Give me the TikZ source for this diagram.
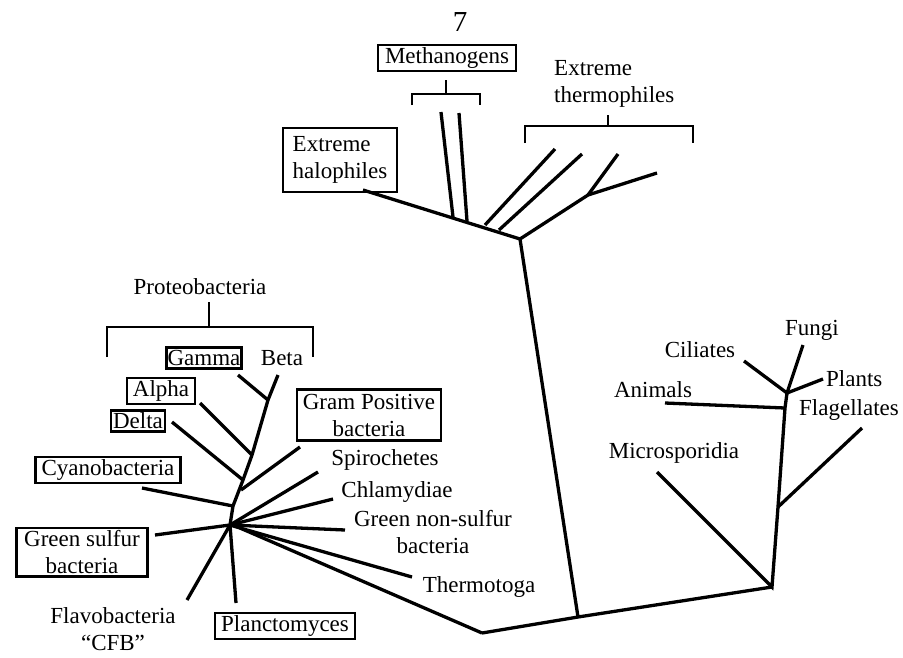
\documentclass[tikz,border=0pt]{standalone}
\usepackage{fontspec}
\setmainfont{Liberation Serif}
\begin{document}
\begin{tikzpicture}[x=1pt,y=-1pt,
  branch/.style={line width=3.3pt},
  brace/.style={line width=2.5pt},
  taxon/.style={inner sep=1pt, font=\fontsize{23}{27}\selectfont},
  boxed/.style={taxon, draw, line width=2.6pt, inner xsep=6pt, inner ysep=2.5pt}]
\useasboundingbox (0,0) rectangle (903,657);

\node[taxon, font=\fontsize{29}{30}\selectfont] (page) at (460,22) {7};

% Archaea
\node[boxed, inner xsep=7pt] (meth) at (447,58) {Methanogens};
\node[boxed, align=left, minimum width=114pt, minimum height=64pt] (halo) at (340,160) {Extreme\\halophiles};
\node[taxon, align=left, anchor=west] (therm) at (553,84) {Extreme\\thermophiles};

\coordinate (arch) at (520,239);
\coordinate (haloend) at (363,190);
\coordinate (methA) at (441,112);
\coordinate (methAb) at (453,217);
\coordinate (methB) at (459,113);
\coordinate (methBb) at (467,221);
\coordinate (thA) at (555,149);
\coordinate (thAb) at (485,225);
\coordinate (thB) at (582,154);
\coordinate (thBb) at (499,230);
\coordinate (thjn) at (588,195);
\coordinate (thC) at (618,154);
\coordinate (thD) at (657,173);

\draw[branch] (haloend) -- (arch);
\draw[branch] (methA) -- (methAb);
\draw[branch] (methB) -- (methBb);
\draw[branch] (thA) -- (thAb);
\draw[branch] (thB) -- (thBb);
\draw[branch] (arch) -- (thjn) -- (thD);
\draw[branch] (thjn) -- (thC);

% brackets
\coordinate (mbl) at (412,94);
\coordinate (mbr) at (480,94);
\draw[brace] (446,80) -- (446,94);
\draw[brace] (412,105) -- (mbl) -- (mbr) -- (480,105);
\coordinate (tbl) at (525,126);
\coordinate (tbr) at (693,126);
\draw[brace] (608,115) -- (608,126);
\draw[brace] (525,143) -- (tbl) -- (tbr) -- (693,143);

% main trunk and root
\coordinate (trunk) at (578,617);
\coordinate (broot) at (482,633);
\coordinate (euk) at (772,587);
\draw[branch] (arch) -- (trunk);
\draw[branch] (broot) -- (trunk) -- (euk);

% Eukarya
\node[taxon] (micro) at (674,453) {Microsporidia};
\node[taxon] (anim) at (653,390) {Animals};
\node[taxon] (cil) at (700,350) {Ciliates};
\node[taxon] (fungi) at (812,330) {Fungi};
\node[taxon, anchor=west] (plants) at (825,379) {Plants};
\node[taxon, anchor=west] (flag) at (798,410) {Flagellates};

\coordinate (microend) at (657,472);
\coordinate (flagjn) at (778,507);
\coordinate (flagend) at (862,428);
\coordinate (animjn) at (785,408);
\coordinate (animend) at (665,403);
\coordinate (eukjn) at (787,393);
\coordinate (cilend) at (744,361);
\coordinate (fungiend) at (803,345);
\coordinate (plantsend) at (823,379);

\draw[branch] (microend) -- (euk) -- (flagjn) -- (animjn) -- (eukjn);
\draw[branch] (flagjn) -- (flagend);
\draw[branch] (animend) -- (animjn);
\draw[branch] (cilend) -- (eukjn) -- (fungiend);
\draw[branch] (eukjn) -- (plantsend);

% Bacteria
\node[taxon] (proteo) at (200,287) {Proteobacteria};
\node[boxed, inner xsep=1pt] (gamma) at (204,358) {Gamma};
\node[taxon] (beta) at (282,358) {Beta};
\node[boxed] (alpha) at (161,391) {Alpha};
\node[boxed, inner xsep=2pt] (delta) at (138,421) {Delta};
\node[boxed] (cyano) at (108,470) {Cyanobacteria};
\node[boxed, align=center, inner ysep=4pt] (gram) at (369,415) {Gram Positive\\bacteria};
\node[taxon] (spiro) at (385,460) {Spirochetes};
\node[taxon] (chlam) at (397,492) {Chlamydiae};
\node[taxon, align=center] (gns) at (433,532) {Green non-sulfur\\bacteria};
\node[taxon] (thermo) at (479,587) {Thermotoga};
\node[boxed, align=center, inner xsep=8pt] (gsb) at (82,552) {Green sulfur\\bacteria};
\node[taxon, align=center] (flavo) at (113,629) {Flavobacteria\\``CFB''};
\node[boxed] (plancto) at (285,626) {Planctomyces};

\coordinate (pbl) at (107,327);
\coordinate (pbr) at (313,327);
\draw[brace] (209,302) -- (209,327);
\draw[brace] (107,357) -- (pbl) -- (pbr) -- (313,357);

\coordinate (bact) at (230,525);
\coordinate (bact2) at (240,528);
\coordinate (betaend) at (278,375);
\coordinate (gammajn) at (268,400);
\coordinate (gammaend) at (238,375);
\coordinate (alphajn) at (252,455);
\coordinate (alphaend) at (200,403);
\coordinate (deltajn) at (243,480);
\coordinate (deltaend) at (172,422);
\coordinate (gramjn) at (241,490);
\coordinate (gramend) at (300,447);
\coordinate (cyanojn) at (233,506);
\coordinate (cyanoend) at (142,488);
\coordinate (spiroend) at (318,472);
\coordinate (chlamend) at (333,499);
\coordinate (gnsend) at (345,530);
\coordinate (thermoend) at (412,577);
\coordinate (gsbend) at (155,535);
\coordinate (flavoend) at (187,600);
\coordinate (planctoend) at (236,603);

\draw[branch] (betaend) -- (gammajn) -- (alphajn) -- (deltajn) -- (cyanojn) -- (bact);
\draw[branch] (gammaend) -- (gammajn);
\draw[branch] (alphaend) -- (alphajn);
\draw[branch] (deltaend) -- (deltajn);
\draw[branch] (gramend) -- (gramjn);
\draw[branch] (cyanoend) -- (cyanojn);
\draw[branch] (gsbend) -- (bact) -- (flavoend);
\draw[branch] (bact) -- (planctoend);
\draw[branch] (bact) -- (spiroend);
\draw[branch] (bact) -- (chlamend);
\draw[branch] (bact) -- (gnsend);
\draw[branch] (bact) -- (bact2) -- (thermoend);
\draw[branch] (bact2) -- (broot);
\end{tikzpicture}
\end{document}
